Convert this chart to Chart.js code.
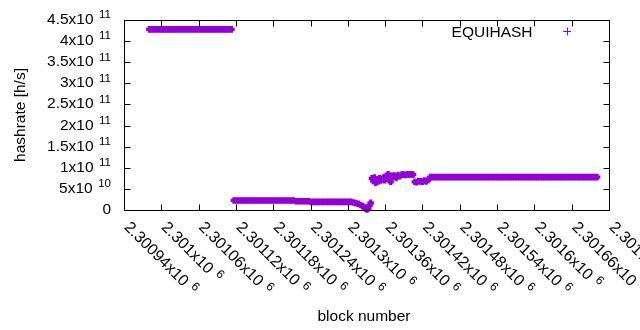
<!DOCTYPE html>
<html>
<head>
<meta charset="utf-8">
<script src="https://cdn.jsdelivr.net/npm/chart.js@4/dist/chart.umd.min.js"></script>
<style>
  html, body { margin: 0; padding: 0; background: #fff; }
  #wrap { width: 640px; height: 330px; }
</style>
</head>
<body>
<div id="wrap"><canvas id="chart" width="640" height="330"></canvas></div>
<script>
// block numbers and hashrate [h/s]
const blocks = [
  2300980, 2300984, 2300988, 2300992, 2300996, 2301000, 2301004, 2301008, 2301012, 2301016,
  2301020, 2301024, 2301028, 2301032, 2301036, 2301040, 2301044, 2301048, 2301052, 2301056,
  2301060, 2301064, 2301068, 2301072, 2301076, 2301080, 2301084, 2301088, 2301092, 2301096,
  2301100, 2301104, 2301108, 2301112,
  2301116, 2301120, 2301124, 2301128, 2301132, 2301136, 2301140, 2301144, 2301148, 2301152,
  2301156, 2301160, 2301164, 2301168, 2301172, 2301176, 2301180, 2301184, 2301188, 2301192,
  2301196, 2301200, 2301204, 2301208, 2301212,
  2301216, 2301220, 2301224, 2301228, 2301232, 2301236,
  2301240, 2301244, 2301248, 2301252, 2301256, 2301260, 2301264, 2301268, 2301272, 2301276,
  2301280, 2301284, 2301288, 2301292, 2301296, 2301300, 2301304,
  2301308, 2301312, 2301316, 2301320, 2301323, 2301326, 2301328, 2301330, 2301332, 2301334,
  2301336,
  2301338, 2301340, 2301342, 2301344, 2301346, 2301348, 2301350, 2301352, 2301354, 2301356,
  2301358, 2301360, 2301362, 2301364, 2301366, 2301368, 2301370, 2301372, 2301374, 2301377,
  2301380, 2301383, 2301386, 2301389, 2301392, 2301395, 2301398, 2301401, 2301404, 2301407,
  2301410, 2301413, 2301416, 2301419, 2301422, 2301425, 2301428,
  2301432, 2301436, 2301440, 2301444, 2301448, 2301452, 2301456, 2301460, 2301464, 2301468,
  2301472, 2301476, 2301480, 2301484, 2301488, 2301492, 2301496, 2301500, 2301504, 2301508,
  2301512, 2301516, 2301520, 2301524, 2301528, 2301532, 2301536, 2301540, 2301544, 2301548,
  2301552, 2301556, 2301560, 2301564, 2301568, 2301572, 2301576, 2301580, 2301584, 2301588,
  2301592, 2301596, 2301600, 2301604, 2301608, 2301612, 2301616, 2301620, 2301624, 2301628,
  2301632, 2301636, 2301640, 2301644, 2301648, 2301652, 2301656, 2301660, 2301664, 2301668,
  2301672, 2301676, 2301680, 2301684, 2301688, 2301692, 2301696, 2301700
];
const hashrate = [
  4.29e11, 4.29e11, 4.29e11, 4.29e11, 4.29e11, 4.29e11, 4.29e11, 4.29e11, 4.29e11, 4.29e11,
  4.29e11, 4.29e11, 4.29e11, 4.29e11, 4.29e11, 4.29e11, 4.29e11, 4.29e11, 4.29e11, 4.29e11,
  4.29e11, 4.29e11, 4.29e11, 4.29e11, 4.29e11, 4.29e11, 4.29e11, 4.29e11, 4.29e11, 4.29e11,
  4.29e11, 4.29e11, 4.29e11, 4.29e11,
  2.38e10, 2.38e10, 2.38e10, 2.38e10, 2.38e10, 2.38e10, 2.38e10, 2.38e10, 2.38e10, 2.38e10,
  2.38e10, 2.38e10, 2.38e10, 2.38e10, 2.38e10, 2.38e10, 2.38e10, 2.38e10, 2.38e10, 2.38e10,
  2.38e10, 2.38e10, 2.38e10, 2.38e10, 2.38e10,
  2.2e10, 2.2e10, 2.2e10, 2.2e10, 2.2e10, 2.2e10,
  2.05e10, 2.05e10, 2.05e10, 2.05e10, 2.05e10, 2.05e10, 2.05e10, 2.05e10, 2.05e10, 2.05e10,
  2.05e10, 2.05e10, 2.05e10, 2.05e10, 2.05e10, 2.05e10, 2.05e10,
  1.9e10, 1.75e10, 1.6e10, 1.3e10, 1.0e10, 0.7e10, 0.4e10, 0.25e10, 0.5e10, 1.2e10,
  1.8e10,
  7.6e10, 7.0e10, 7.8e10, 6.6e10, 7.3e10, 6.9e10, 7.6e10, 7.1e10, 7.4e10, 7.8e10,
  7.2e10, 8.0e10, 7.5e10, 8.6e10, 7.9e10, 6.8e10, 8.2e10, 8.0e10, 8.3e10, 7.7e10,
  8.4e10, 8.1e10, 8.5e10, 8.5e10, 8.4e10, 8.6e10, 8.5e10, 8.6e10, 8.5e10, 6.8e10,
  6.7e10, 7.0e10, 6.9e10, 6.8e10, 7.1e10, 6.9e10, 7.2e10,
  7.9e10, 7.9e10, 7.9e10, 7.9e10, 7.9e10, 7.9e10, 7.9e10, 7.9e10, 7.9e10, 7.9e10,
  7.9e10, 7.9e10, 7.9e10, 7.9e10, 7.9e10, 7.9e10, 7.9e10, 7.9e10, 7.9e10, 7.9e10,
  7.9e10, 7.9e10, 7.9e10, 7.9e10, 7.9e10, 7.9e10, 7.9e10, 7.9e10, 7.9e10, 7.9e10,
  7.9e10, 7.9e10, 7.9e10, 7.9e10, 7.9e10, 7.9e10, 7.9e10, 7.9e10, 7.9e10, 7.9e10,
  7.9e10, 7.9e10, 7.9e10, 7.9e10, 7.9e10, 7.9e10, 7.9e10, 7.9e10, 7.9e10, 7.9e10,
  7.9e10, 7.9e10, 7.9e10, 7.9e10, 7.9e10, 7.9e10, 7.9e10, 7.9e10, 7.9e10, 7.9e10,
  7.9e10, 7.9e10, 7.9e10, 7.9e10, 7.9e10, 7.9e10, 7.9e10, 7.9e10
];

// axis ticks (gnuplot style: mantissa x10 + superscript exponent)
const xTicks = [2300940, 2301000, 2301060, 2301120, 2301180, 2301240, 2301300,
                2301360, 2301420, 2301480, 2301540, 2301600, 2301660, 2301720];
const xTickLabels = ['2.30094x10', '2.301x10', '2.30106x10', '2.30112x10', '2.30118x10',
                     '2.30124x10', '2.3013x10', '2.30136x10', '2.30142x10', '2.30148x10',
                     '2.30154x10', '2.3016x10', '2.30166x10', '2.30172x10'];
const xTickExp = '6';
const yTicks = [0, 5e10, 1e11, 1.5e11, 2e11, 2.5e11, 3e11, 3.5e11, 4e11, 4.5e11];
const yTickLabels = ['0', '5x10', '1x10', '1.5x10', '2x10', '2.5x10', '3x10', '3.5x10', '4x10', '4.5x10'];
const yTickExp = ['', '10', '11', '11', '11', '11', '11', '11', '11', '11'];

const COLOR = '#9400d3';
const FONT = '"Liberation Sans", Arial, sans-serif';

const gnuplotFrame = {
  id: 'gnuplotFrame',
  afterDraw(chart) {
    const { ctx, chartArea: a, scales: { x, y } } = chart;
    ctx.save();
    ctx.strokeStyle = '#000';
    ctx.fillStyle = '#000';
    ctx.lineWidth = 1;
    ctx.strokeRect(a.left, a.top, a.right - a.left, a.bottom - a.top);

    // tick marks, inward on all four sides
    ctx.beginPath();
    yTicks.forEach(v => {
      const py = Math.round(y.getPixelForValue(v) - 0.5) + 0.5;
      ctx.moveTo(a.left, py); ctx.lineTo(a.left + 6, py);
      ctx.moveTo(a.right, py); ctx.lineTo(a.right - 6, py);
    });
    xTicks.forEach(v => {
      const px = Math.round(x.getPixelForValue(v) - 0.5) + 0.5;
      ctx.moveTo(px, a.bottom); ctx.lineTo(px, a.bottom - 6);
      ctx.moveTo(px, a.top); ctx.lineTo(px, a.top + 6);
    });
    ctx.stroke();

    // y tick labels
    ctx.textBaseline = 'alphabetic';
    yTicks.forEach((v, i) => {
      const py = y.getPixelForValue(v);
      const rightX = 111;
      ctx.font = '11.5px ' + FONT;
      const supW = yTickExp[i] ? ctx.measureText(yTickExp[i]).width : 0;
      ctx.textAlign = 'right';
      if (yTickExp[i]) ctx.fillText(yTickExp[i], rightX, py - 2.2);
      ctx.font = '15.5px ' + FONT;
      ctx.fillText(yTickLabels[i], rightX - (supW ? supW + 5.5 : 0), py + 3.5);
    });

    // x tick labels, rotated 45 degrees
    xTicks.forEach((v, i) => {
      const px = x.getPixelForValue(v);
      ctx.save();
      ctx.translate(px - 1, 228);
      ctx.rotate(Math.PI / 4);
      ctx.textAlign = 'left';
      ctx.font = '16px ' + FONT;
      ctx.fillText(xTickLabels[i], 0, 0);
      const w = ctx.measureText(xTickLabels[i]).width;
      ctx.font = '12px ' + FONT;
      ctx.fillText(xTickExp, w + 5.5, -5.7);
      ctx.restore();
    });

    // axis titles
    ctx.font = '15.5px ' + FONT;
    ctx.textAlign = 'center';
    ctx.fillText('block number', 364, 321);
    ctx.save();
    ctx.translate(25, 115);
    ctx.rotate(-Math.PI / 2);
    ctx.fillText('hashrate [h/s]', 0, 0);
    ctx.restore();

    // key
    ctx.textAlign = 'right';
    ctx.fillText(chart.data.datasets[0].label, 532.5, 36.5);
    ctx.strokeStyle = COLOR;
    ctx.beginPath();
    ctx.moveTo(563, 31.5); ctx.lineTo(571, 31.5);
    ctx.moveTo(567.5, 27.5); ctx.lineTo(567.5, 35.5);
    ctx.stroke();
    ctx.restore();
  }
};

new Chart(document.getElementById('chart'), {
  type: 'scatter',
  data: {
    datasets: [{
      label: 'EQUIHASH',
      data: blocks.map((b, i) => ({ x: b, y: hashrate[i] })),
      pointStyle: 'cross',
      pointRadius: 3.3,
      pointHoverRadius: 3.3,
      pointBorderWidth: 3.2,
      pointBorderColor: COLOR,
      pointBackgroundColor: COLOR,
      borderColor: COLOR,
      clip: 6
    }]
  },
  options: {
    responsive: false,
    animation: false,
    events: [],
    layout: { padding: { left: 124.5, right: 30.5, top: 20.5, bottom: 119.5 } },
    plugins: { legend: { display: false }, tooltip: { enabled: false } },
    scales: {
      x: { type: 'linear', display: false, min: 2300940, max: 2301720 },
      y: { type: 'linear', display: false, min: 0, max: 4.5e11 }
    }
  },
  plugins: [gnuplotFrame]
});
</script>
</body>
</html>
